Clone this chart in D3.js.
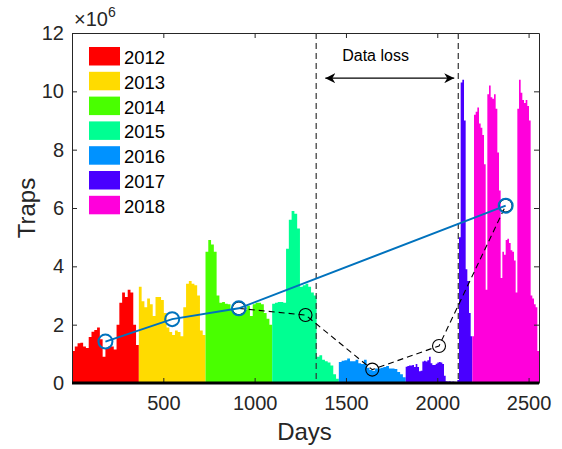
<!DOCTYPE html>
<html>
<head>
<meta charset="utf-8">
<script src="https://cdn.jsdelivr.net/npm/d3@7"></script>
<style>
  body { margin: 0; background: #fff; }
  svg { font-family: "Liberation Sans", Arial, sans-serif; }
  .axis text { fill: #262626; font-size: 20px; font-family: "Liberation Sans", Arial, sans-serif; }
  .axis path, .axis line { stroke: #262626; }
</style>
</head>
<body>
<div id="chart"></div>
<script>
////////////////////////////  Data  ////////////////////////////
const years = ["2012", "2013", "2014", "2015", "2016", "2017", "2018"];
const yearDays = [366, 365, 365, 365, 366, 365, 365];
const palette = ["#FF0000", "#FFDB00", "#49FF00", "#00FF92", "#0092FF", "#4900FF", "#FF00DB"];

// traps per ~equal slice of each year (x 10^6)
const traps2012 = [1.1, 1.25, 1.36, 1.38, 1.25, 1.2, 1.58, 1.76, 1.82, 1.9, 1.5, 0.9, 1.2, 1.25, 1.25, 1.15, 2.0, 2.75, 3.1, 2.95, 3.2, 3.1, 2.0, 1.3];
const traps2013 = [3.3, 2.8, 2.6, 2.9, 2.7, 2.3, 2.95, 2.95, 2.85, 2.4, 1.9, 1.75, 1.65, 1.8, 1.75, 1.6, 2.6, 3.4, 3.5, 3.4, 3.35, 3.0, 1.8, 1.65];
const traps2014 = [4.5, 4.9, 4.75, 4.5, 3.0, 2.75, 2.78, 2.72, 2.7, 2.5, 2.4, 2.35, 2.35, 2.4, 2.5, 2.65, 2.3, 2.7, 2.75, 2.75, 2.7, 2.4, 2.2, 2.0];
const traps2015 = [2.72, 2.75, 2.78, 2.78, 2.75, 4.6, 5.6, 5.9, 5.8, 5.3, 3.3, 3.35, 3.4, 3.3, 3.1, 3.0, 0.9, 0.95, 0.8, 0.75, 0.7, 0.6, 0.3, 0.15];
const traps2016 = [0.72, 0.76, 0.78, 0.84, 0.75, 0.75, 0.8, 0.68, 0.65, 0.8, 0.52, 0.45, 0.42, 0.5, 0.5, 0.52, 0.55, 0.58, 0.5, 0.5, 0.48, 0.38, 0.3, 0.2];
const traps2017 = [0.56, 0.58, 0.6, 0.6, 0.62, 0.55, 0.65, 0.55, 0.4, 0.42, 0.74, 0.76, 0.74, 0.78, 0.9, 0.68, 0.62, 0.62, 0.66, 0.7, 0.72, 0.7, 0.65, 0.25, 0.06, 0.05, 0.06, 0.04, 0.05, 0.04, 0, 0.1, 5.0, 10.3, 10.4, 9.0, 3.9, 3.5, 2.4, 1.6];
const traps2018 = [1.6, 9.2, 9.3, 9.45, 8.9, 8.75, 8.5, 7.5, 3.2, 9.9, 10.2, 9.8, 9.75, 9.9, 9.4, 7.9, 6.6, 3.6, 4.5, 4.4, 4.9, 4.95, 4.8, 4.55, 4.5, 4.2, 3.1, 9.4, 10.4, 9.95, 9.7, 9.6, 9.7, 9.5, 9.0, 3.0, 2.9, 2.7, 2.6, 1.1];
const trapsByYear = [traps2012, traps2013, traps2014, traps2015, traps2016, traps2017, traps2018];

// yearly means (x 10^6)
const yearMean = [1.42, 2.19, 2.56, 2.33, 0.46, 1.27, 6.08];
const blueIdx = [0, 1, 2, 6];
const dashIdx = [2, 3, 4, 5, 6];

const xTicks = [500, 1000, 1500, 2000, 2500];
const yTicks = [0, 2, 4, 6, 8, 10, 12];
const lossStart = 1337, lossEnd = 2115;

////////////////////////////  Init  ////////////////////////////
const width = 562, height = 449;
const margin = { top: 33, right: 23, bottom: 66, left: 72 };

const svg = d3.select("#chart").append("svg")
  .attr("width", width).attr("height", height);

const totalDays = d3.sum(yearDays);
const x = d3.scaleLinear().domain([0, totalDays]).range([margin.left, width - margin.right]);
const y = d3.scaleLinear().domain([0, 12]).range([height - margin.bottom, margin.top]);

// day offsets of each year
const yearStart = yearDays.map((d, i) => d3.sum(yearDays.slice(0, i)));

// bars as step areas, one per year
const area = d3.area()
  .curve(d3.curveStepAfter)
  .x(d => x(d.day))
  .y0(y(0))
  .y1(d => y(d.v));

trapsByYear.forEach((vals, i) => {
  const step = yearDays[i] / vals.length;
  const pts = vals.map((v, k) => ({ day: yearStart[i] + k * step, v: v }));
  pts.push({ day: yearStart[i] + yearDays[i], v: vals[vals.length - 1] });
  svg.append("path")
    .datum(pts)
    .attr("d", area)
    .attr("fill", palette[i]);
});

// axes
const axB = svg.append("g").attr("class", "axis")
  .attr("transform", `translate(0,${y(0)})`)
  .call(d3.axisBottom(x).tickValues(xTicks).tickFormat(d3.format("d")).tickSizeInner(-5).tickSizeOuter(0).tickPadding(13));
const axT = svg.append("g").attr("class", "axis")
  .attr("transform", `translate(0,${y(12)})`)
  .call(d3.axisTop(x).tickValues(xTicks).tickSizeInner(-5).tickSizeOuter(0).tickFormat(""));
const axL = svg.append("g").attr("class", "axis")
  .attr("transform", `translate(${x(0)},0)`)
  .call(d3.axisLeft(y).tickValues(yTicks).tickSizeInner(-5).tickSizeOuter(0).tickPadding(8));
const axR = svg.append("g").attr("class", "axis")
  .attr("transform", `translate(${x(totalDays)},0)`)
  .call(d3.axisRight(y).tickValues(yTicks).tickSizeInner(-5).tickSizeOuter(0).tickFormat(""));
axB.select(".domain").remove();

// thick baseline
svg.append("line")
  .attr("x1", x(0)).attr("x2", x(totalDays))
  .attr("y1", y(0)).attr("y2", y(0))
  .attr("stroke", "#000").attr("stroke-width", 3);

// data loss markers
[lossStart, lossEnd].forEach(d => {
  svg.append("line")
    .attr("x1", x(d)).attr("x2", x(d))
    .attr("y1", y(12)).attr("y2", y(0))
    .attr("stroke", "#333").attr("stroke-width", 1.2)
    .attr("stroke-dasharray", "6,4");
});

const defs = svg.append("defs");
defs.append("marker").attr("id", "arr")
  .attr("viewBox", "0 0 10 10").attr("refX", 10).attr("refY", 5)
  .attr("markerWidth", 10).attr("markerHeight", 10)
  .attr("orient", "auto-start-reverse").attr("markerUnits", "userSpaceOnUse")
  .append("path").attr("d", "M0,0 L10,5 L0,10 L3,5 Z").attr("fill", "#000");

svg.append("line")
  .attr("x1", x(1387)).attr("x2", x(2093))
  .attr("y1", y(10.45)).attr("y2", y(10.45))
  .attr("stroke", "#000").attr("stroke-width", 1.2)
  .attr("marker-start", "url(#arr)").attr("marker-end", "url(#arr)");

svg.append("text")
  .attr("x", x(1662)).attr("y", y(11.05))
  .attr("text-anchor", "middle")
  .attr("font-size", 16)
  .text("Data loss");

// yearly means
const mid = i => yearStart[i] + yearDays[i] / 2;
const meanLine = d3.line().x(i => x(mid(i))).y(i => y(yearMean[i]));

svg.append("path").datum(dashIdx)
  .attr("d", meanLine).attr("fill", "none")
  .attr("stroke", "#000").attr("stroke-width", 1.1).attr("stroke-dasharray", "6,4");
svg.selectAll(".dashpt").data(dashIdx).enter().append("circle")
  .attr("cx", i => x(mid(i))).attr("cy", i => y(yearMean[i]))
  .attr("r", 6.5).attr("fill", "none").attr("stroke", "#000").attr("stroke-width", 1.1);

svg.append("path").datum(blueIdx)
  .attr("d", meanLine).attr("fill", "none")
  .attr("stroke", "#0072BD").attr("stroke-width", 2);
svg.selectAll(".bluept").data(blueIdx).enter().append("circle")
  .attr("cx", i => x(mid(i))).attr("cy", i => y(yearMean[i]))
  .attr("r", 7).attr("fill", "none").attr("stroke", "#0072BD").attr("stroke-width", 2);

// legend
const legend = svg.append("g").attr("transform", "translate(89,47)");
years.forEach((yr, i) => {
  legend.append("rect")
    .attr("x", 0).attr("y", i * 24.8)
    .attr("width", 31).attr("height", 18.5)
    .attr("fill", palette[i]);
  legend.append("text")
    .attr("x", 35).attr("y", i * 24.8 + 17)
    .attr("font-size", 18.5).attr("fill", "#000")
    .text(yr);
});

// exponent label
const expo = svg.append("text").attr("x", 74).attr("y", 26).attr("fill", "#262626").attr("font-size", 20);
expo.append("tspan").text("\u00d710");
expo.append("tspan").attr("dy", -9).attr("font-size", 14).text("6");

// axis titles
svg.append("text")
  .attr("x", x(totalDays / 2) - 1).attr("y", 440)
  .attr("text-anchor", "middle").attr("font-size", 24).attr("fill", "#262626")
  .text("Days");
svg.append("text")
  .attr("transform", `translate(35,${y(6)}) rotate(-90)`)
  .attr("text-anchor", "middle").attr("font-size", 24).attr("fill", "#262626")
  .text("Traps");
</script>
</body>
</html>
